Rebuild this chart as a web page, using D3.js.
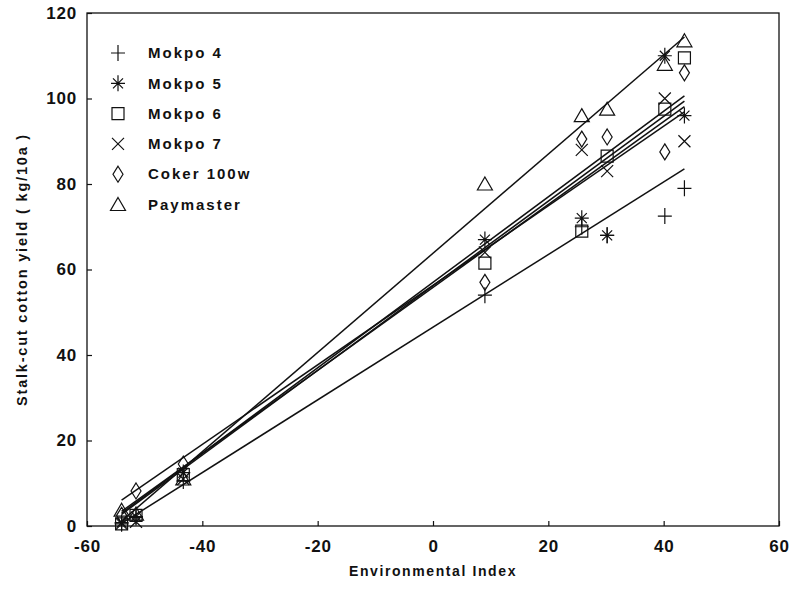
<!DOCTYPE html>
<html lang="en">
<head>
<meta charset="UTF-8">
<title>Stalk-cut cotton yield</title>
<script src="https://d3js.org/d3.v7.min.js"></script>
<style>
  body { margin: 0; background: #fff; }
  text { font-family: "Liberation Sans", Arial, sans-serif; fill: #111; }
</style>
</head>
<body>
<script>
// environmental index of the 8 environments
const envIndex = [-54, -51.5, -43.3, 9.0, 25.8, 30.2, 40.2, 43.6];

const varieties = ["Mokpo 4", "Mokpo 5", "Mokpo 6", "Mokpo 7", "Coker 100w", "Paymaster"];
const shapes    = ["plus", "star", "square", "cross", "diamond", "triangle"];

// yields per environment (kg/10a)
const mokpo4    = [0.5, 2, 10.5, 54, 70, 68, 72.5, 79];
const mokpo5    = [0.8, 2.2, 12.5, 67, 72, 68, 110, 96];
const mokpo6    = [0.5, 2.5, 12, 61.5, 69, 86.5, 97.5, 109.5];
const mokpo7    = [0.5, 1, 11, 64, 88, 83, 100, 90];
const coker100w = [2.5, 8.2, 14.5, 57, 90.5, 91, 87.5, 106];
const paymaster = [3.7, 2.8, 11, 80, 96, 97.5, 108, 113.5];
const yields = [mokpo4, mokpo5, mokpo6, mokpo7, coker100w, paymaster];

// fitted regression lines
const intercepts = [46.5, 56.3, 57.0, 55.8, 56.2, 63.8];
const slopes     = [0.85, 0.93, 1.00, 0.97, 0.99, 1.16];

const xTicks = [-60, -40, -20, 0, 20, 40, 60];
const yTicks = [0, 20, 40, 60, 80, 100, 120];

const width = 794, height = 591;
const margin = { left: 87, right: 15, top: 13, bottom: 65 };

const svg = d3.select("body").append("svg")
  .attr("width", width).attr("height", height);

const x = d3.scaleLinear().domain([-60, 60]).range([margin.left, width - margin.right]);
const y = d3.scaleLinear().domain([0, 120]).range([height - margin.bottom, margin.top]);

// frame
svg.append("rect")
  .attr("x", x(-60)).attr("y", y(120))
  .attr("width", x(60) - x(-60)).attr("height", y(0) - y(120))
  .attr("fill", "none").attr("stroke", "#111").attr("stroke-width", 1.3);

// axes with inward ticks
const xAxis = svg.append("g").attr("transform", `translate(0,${y(0)})`)
  .call(d3.axisBottom(x).tickValues(xTicks).tickSize(-5).tickPadding(14).tickFormat(d3.format("d")));
const yAxis = svg.append("g").attr("transform", `translate(${x(-60)},0)`)
  .call(d3.axisLeft(y).tickValues(yTicks).tickSize(-5).tickPadding(10).tickFormat(d3.format("d")));
[xAxis, yAxis].forEach(g => {
  g.select(".domain").remove();
  g.selectAll("line").attr("stroke", "#111").attr("stroke-width", 1.2);
  g.selectAll("text").style("font-size", "17px").style("font-weight", "bold")
    .style("letter-spacing", "0.8px")
    .style("font-family", "'Liberation Sans', Arial, sans-serif").attr("fill", "#111");
});
xAxis.selectAll("text").text(d => d < 0 ? "-" + Math.abs(d) : d);

// axis titles
svg.append("text")
  .attr("x", x(0)).attr("y", 576)
  .attr("text-anchor", "middle")
  .style("font-size", "14px").style("font-weight", "bold").style("letter-spacing", "1.6px")
  .text("Environmental Index");

svg.append("text")
  .attr("transform", `translate(27,${y(60)}) rotate(-90)`)
  .attr("text-anchor", "middle")
  .style("font-size", "14.5px").style("font-weight", "bold").style("letter-spacing", "1.8px")
  .text("Stalk-cut cotton yield ( kg/10a )");

// marker shapes
const shapePath = {
  plus: "M-7,0H7M0,-8V8",
  star: "M-7,0H7M0,-8V8M-5,-5L5,5M-5,5L5,-5",
  square: "M-6,-6H6V6H-6Z",
  cross: "M-6,-6L6,6M-6,6L6,-6",
  diamond: "M0,-8L5,0L0,8L-5,0Z",
  triangle: "M0,-7L7.5,6H-7.5Z"
};

// regression lines, from the poorest to the best environment, kept above 0
const xMin = d3.min(envIndex), xMax = d3.max(envIndex);
const lines = svg.append("g");
varieties.forEach((v, i) => {
  const a = intercepts[i], b = slopes[i];
  const x0 = Math.max(xMin, -a / b);
  lines.append("line")
    .attr("x1", x(x0)).attr("y1", y(a + b * x0))
    .attr("x2", x(xMax)).attr("y2", y(a + b * xMax))
    .attr("stroke", "#111").attr("stroke-width", 1.5);
});

// points
varieties.forEach((v, i) => {
  svg.append("g").selectAll("path")
    .data(envIndex.map((e, j) => [e, yields[i][j]]))
    .enter().append("path")
    .attr("transform", d => `translate(${x(d[0])},${y(d[1])})`)
    .attr("d", shapePath[shapes[i]])
    .attr("fill", "none").attr("stroke", "#111").attr("stroke-width", 1.2);
});

// legend
const legend = svg.append("g");
varieties.forEach((v, i) => {
  const ly = 53 + i * 30.3;
  legend.append("path")
    .attr("transform", `translate(118,${ly})`)
    .attr("d", shapePath[shapes[i]])
    .attr("fill", "none").attr("stroke", "#111").attr("stroke-width", 1.2);
  legend.append("text")
    .attr("x", 148).attr("y", ly).attr("dy", "0.35em")
    .style("font-size", "15px").style("font-weight", "bold").style("letter-spacing", "2px")
    .text(v);
});
</script>
</body>
</html>
